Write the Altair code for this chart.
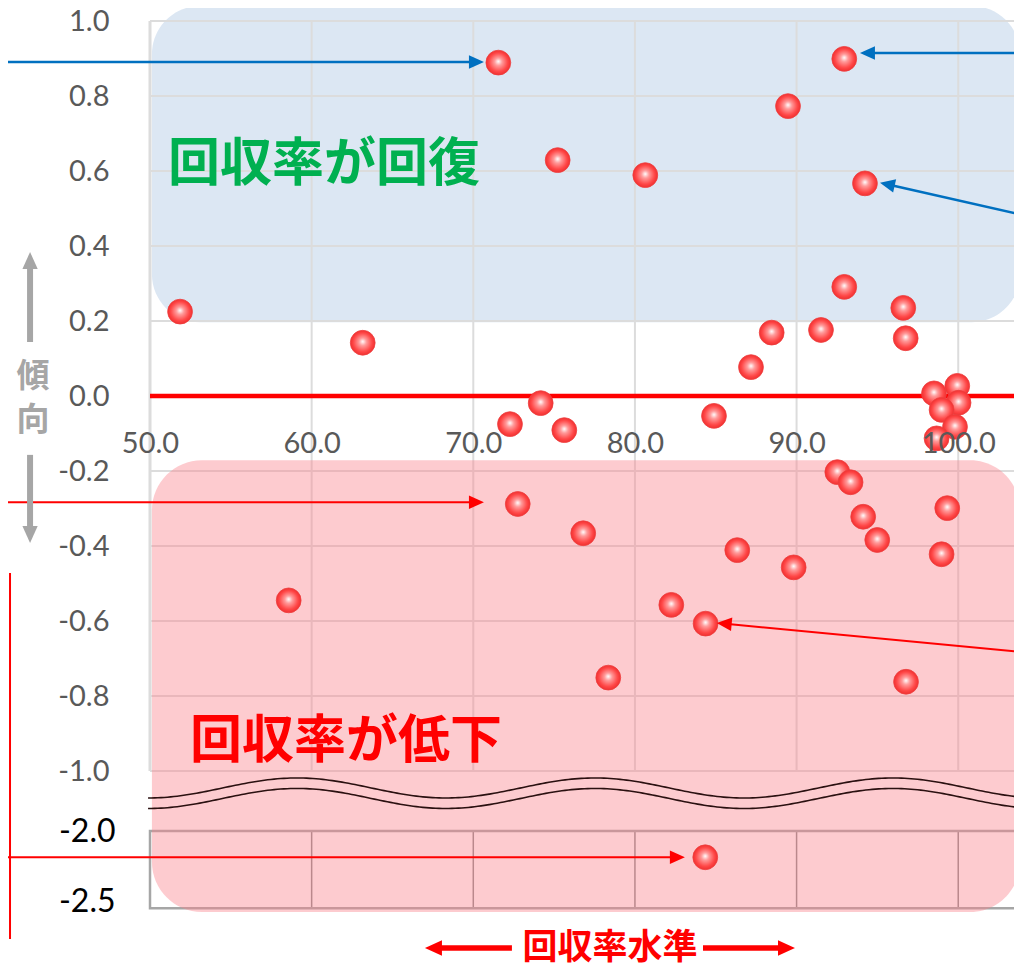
import math
import altair as alt
import pandas as pd

# ---------------- data ----------------
rate = [51.86, 63.16, 71.55, 75.22, 80.64, 89.47, 92.95, 94.23, 92.95, 96.60,
        96.75, 91.51, 88.46, 87.18, 84.89, 74.17, 75.63, 72.27, 98.50, 99.94,
        100.02, 98.97, 99.80, 98.66, 92.52, 93.34, 94.12, 94.99, 99.32, 98.97,
        72.75, 76.80, 86.33, 89.82, 82.25, 84.37, 78.35, 96.77, 58.58, 84.35]
trend = [0.225, 0.142, 0.889, 0.629, 0.589, 0.773, 0.899, 0.567, 0.291, 0.235,
         0.154, 0.176, 0.169, 0.077, -0.053, -0.019, -0.091, -0.075, 0.007, 0.027,
         -0.018, -0.037, -0.082, -0.113, -0.203, -0.230, -0.322, -0.384, -0.299, -0.422,
         -0.288, -0.366, -0.411, -0.457, -0.557, -0.607, -0.751, -0.762, -0.545, -2.17]

x_ticks = [50, 60, 70, 80, 90, 100]
y_ticks_upper = [1.0, 0.8, 0.6, 0.4, 0.2, 0.0, -0.2, -0.4, -0.6, -0.8, -1.0]
y_ticks_lower = [-2.0, -2.5]

label_up = "回収率が回復"
label_down = "回収率が低下"
x_title = "回収率水準"
y_title = ["傾", "向"]

# ---------------- layout ----------------
W, H = 864, 888
X_MIN, X_MAX = 50.0, 103.45
PX_X = W / (X_MAX - X_MIN)
PX_Y = 375.0
Y_MAX = 1.0
Y_MIN = Y_MAX - H / PX_Y
LOW_TOP = -1.16      # display position of -2.0 (axis break)
K = 0.4122           # display units per data unit below the break
FONT = "Lato"
JP = "Noto Sans CJK JP"


def disp(v):
    return v if v >= -1.5 else LOW_TOP + (v + 2.0) * K


y_vals = y_ticks_upper + [disp(v) for v in y_ticks_lower]
label_expr = (f"replace(datum.value < -1.1 ? format((datum.value - ({LOW_TOP})) / {K} - 2, '.1f')"
              f" : format(datum.value, '.1f'), '\u2212', '-')")
Y_AXIS = alt.Axis(values=y_vals, labelExpr=label_expr, domain=False, ticks=False, tickSize=0, grid=False,
                  title=None, labelFont=FONT, labelBaseline="middle",
                  labelPadding={"condition": {"test": "datum.value < -1.1", "value": 35}, "value": 41},
                  labelColor={"condition": {"test": "datum.value < -1.1", "value": "#000000"}, "value": "#595959"},
                  labelFontSize={"condition": {"test": "datum.value < -1.1", "value": 32}, "value": 29},
                  labelOffset={"condition": {"test": "datum.value < -1.3", "value": -7}, "value": 0})
X_AXIS = alt.Axis(values=x_ticks, format=".1f", orient="bottom", offset=-(H - (Y_MAX - 0) * PX_Y),
                  domain=False, ticks=False, tickSize=0, grid=False, title=None, labelFlush=False,
                  labelPadding=33, labelFontSize=29, labelColor="#595959", labelFont=FONT, zindex=1)
XSC = alt.Scale(domain=[X_MIN, X_MAX], nice=False, zero=False)
YSC = alt.Scale(domain=[Y_MIN, Y_MAX], nice=False, zero=False)


def xs(field):
    return alt.X(f"{field}:Q", scale=XSC, axis=X_AXIS)


def ys(field):
    return alt.Y(f"{field}:Q", scale=YSC, axis=Y_AXIS)


# ---------------- grid / frame ----------------
grid_v = pd.DataFrame({"x": x_ticks, "y": [-1.0] * len(x_ticks), "y2": [1.0] * len(x_ticks),
                       "w": [3 if v == 50 else 2 for v in x_ticks]})
grid_h = pd.DataFrame({"y": y_ticks_upper, "x": [X_MIN] * len(y_ticks_upper), "x2": [104.5] * len(y_ticks_upper)})
low_v = pd.DataFrame({"x": x_ticks[1:], "y": [disp(-2.0)] * 5, "y2": [disp(-2.5)] * 5})
low_box = pd.DataFrame({"x": [X_MIN], "x2": [104.5], "y": [disp(-2.0)], "y2": [disp(-2.5)]})

l_grid_v = alt.Chart(grid_v).mark_rule(color="#DCDCDC").encode(
    x=xs("x"), y=ys("y"), y2="y2", strokeWidth=alt.StrokeWidth("w:Q", scale=None))
l_grid_h = alt.Chart(grid_h).mark_rule(color="#DCDCDC", strokeWidth=2).encode(
    x=xs("x"), x2="x2", y=ys("y"))
l_low_v = alt.Chart(low_v).mark_rule(color="#8C8C8C", strokeWidth=1.5).encode(
    x=xs("x"), y=ys("y"), y2="y2")
l_low_box = alt.Chart(low_box).mark_rect(fillOpacity=0, stroke="#A6A6A6", strokeWidth=2.5).encode(
    x=xs("x"), x2="x2", y=ys("y"), y2="y2")

# ---------------- shaded zones ----------------
blue = pd.DataFrame({"x": [50.12], "x2": [103.82], "y": [1.04], "y2": [0.197]})
pink = pd.DataFrame({"x": [50.12], "x2": [103.82], "y": [-0.171], "y2": [-1.376]})
l_blue = alt.Chart(blue).mark_rect(cornerRadius=48, fill="#DCE7F3").encode(
    x=xs("x"), x2="x2", y=ys("y"), y2="y2")
l_pink = alt.Chart(pink).mark_rect(cornerRadius=50, fill="#FA828C", fillOpacity=0.42).encode(
    x=xs("x"), x2="x2", y=ys("y"), y2="y2")

zero = pd.DataFrame({"x": [X_MIN], "x2": [104.5], "y": [0.0]})
l_zero = alt.Chart(zero).mark_rule(color="#FF0000", strokeWidth=4.5).encode(x=xs("x"), x2="x2", y=ys("y"))

# ---------------- axis-break wave ----------------
wave = alt.Chart(alt.sequence(49.88, 104.5, 0.2, as_="wx")).transform_calculate(
    w1="-1.0453 - 0.0267 * cos(2 * PI * (datum.wx - 49.88) / 18.43)",
    w2="-1.0733 - 0.0267 * cos(2 * PI * (datum.wx - 49.88) / 18.43)",
)
l_w1 = wave.mark_line(color="#2a1010", strokeWidth=1.6).encode(x=xs("wx"), y=ys("w1"))
l_w2 = wave.mark_line(color="#2a1010", strokeWidth=1.6).encode(x=xs("wx"), y=ys("w2"))

# ---------------- points ----------------
sphere = alt.RadialGradient(
    gradient="radial", x1=0.5, y1=0.45, r1=0, x2=0.5, y2=0.5, r2=0.5,
    stops=[alt.GradientStop(color="#ffffff", offset=0),
           alt.GradientStop(color="#ff9c9c", offset=0.3),
           alt.GradientStop(color="#ff4848", offset=0.75),
           alt.GradientStop(color="#f03030", offset=1)])

pts = pd.DataFrame({"rate": rate, "trend": trend})
l_pts = alt.Chart(pts).transform_calculate(
    yd=f"datum.trend >= -1.5 ? datum.trend : {LOW_TOP} + (datum.trend + 2) * {K}"
).mark_point(shape="circle", filled=True, size=616, fill=sphere, fillOpacity=1, opacity=1,
             stroke="#ee4040", strokeWidth=0.8).encode(
    x=xs("rate"), y=ys("yd"))

# ---------------- annotation arrows ----------------
YT = 1 - (948 - 21) / PX_Y
dl = disp(-2.17)
arr_x1 = [41.2, 104.0, 103.94, 41.2, 103.94, 41.2, 42.58, 42.58, 72.39, 84.21]
arr_y1 = [0.891, 0.915, 0.483, -0.283, -0.683, dl, 0.144, -0.157, YT, YT]
arr_x2 = [70.66, 93.92, 95.16, 70.66, 85.06, 83.09, 42.58, 42.58, 67.01, 89.90]
arr_y2 = [0.891, 0.915, 0.569, -0.283, -0.605, dl, 0.384, -0.392, YT, YT]
arr_c = ["#0070C0"] * 3 + ["#FF0000"] * 3 + ["#A6A6A6"] * 2 + ["#FF0000"] * 2
arr_w = [2.5, 2.5, 2.5, 2, 2, 2, 6, 6, 5.5, 5.5]
arr_h = [900, 900, 900, 900, 900, 900, 1156, 1156, 1156, 1156]

rows = []
for x1, y1, x2, y2, c, w, h in zip(arr_x1, arr_y1, arr_x2, arr_y2, arr_c, arr_w, arr_h):
    dxp, dyp = (x2 - x1) * PX_X, (y2 - y1) * PX_Y
    n = math.hypot(dxp, dyp)
    hl = math.sqrt(h) / 2 - 1
    ex = x2 - dxp / n * hl / PX_X
    ey = y2 - dyp / n * hl / PX_Y
    a = math.degrees(math.atan2(dxp, dyp)) % 360
    rows.append({"x": x1, "y": y1, "ex": ex, "ey": ey, "tx": x2, "ty": y2, "c": c, "w": w, "h": h, "a": a})
arrows = pd.DataFrame(rows)

l_shaft = alt.Chart(arrows).mark_rule().encode(
    x=xs("x"), y=ys("y"), x2="ex", y2="ey",
    color=alt.Color("c:N", scale=None), strokeWidth=alt.StrokeWidth("w:Q", scale=None))
l_head = alt.Chart(arrows).mark_point(shape="M0,0L0.45,1L-0.45,1Z", filled=True, opacity=1, strokeWidth=0).encode(
    x=xs("tx"), y=ys("ty"), color=alt.Color("c:N", scale=None),
    size=alt.Size("h:Q", scale=None), angle=alt.Angle("a:Q", scale=None))

bracket = pd.DataFrame({"x": [41.34], "y": [-0.472], "y2": [-1.448]})
l_bracket = alt.Chart(bracket).mark_rule(color="#FF0000", strokeWidth=2).encode(x=xs("x"), y=ys("y"), y2="y2")

# ---------------- texts ----------------
l_up = alt.Chart(pd.DataFrame({"x": [51.11], "y": [0.616], "t": [label_up]})).mark_text(
    align="left", baseline="middle", font=JP, fontWeight="bold", fontSize=52, color="#00B050").encode(
    x=xs("x"), y=ys("y"), text="t:N")
l_down = alt.Chart(pd.DataFrame({"x": [52.47], "y": [-0.9227], "t": [label_down]})).mark_text(
    align="left", baseline="middle", font=JP, fontWeight="bold", fontSize=52, color="#FF0000").encode(
    x=xs("x"), y=ys("y"), text="t:N")
l_ytitle = alt.Chart(pd.DataFrame({"x": [42.76, 42.76], "y": [0.050, -0.066], "t": y_title})).mark_text(
    align="center", baseline="middle", font=JP, fontWeight="bold", fontSize=33, color="#A6A6A6").encode(
    x=xs("x"), y=ys("y"), text="t:N")
l_xtitle = alt.Chart(pd.DataFrame({"x": [78.45], "y": [YT], "t": [x_title]})).mark_text(
    align="center", baseline="middle", font=JP, fontWeight="bold", fontSize=35, color="#FF0000").encode(
    x=xs("x"), y=ys("y"), text="t:N")

chart = alt.layer(
    l_blue, l_grid_v, l_grid_h, l_low_v, l_low_box, l_pink, l_zero, l_w1, l_w2,
    l_up, l_down, l_pts, l_shaft, l_head, l_bracket, l_ytitle, l_xtitle,
).properties(
    width=W, height=H,
    autosize=alt.AutoSizeParams(type="none"),
    padding={"left": 142, "top": 13, "right": 0, "bottom": 60},
    background="white",
).configure_view(strokeWidth=0)

chart.save("out.html", embed_options={"renderer": "svg", "actions": False})
